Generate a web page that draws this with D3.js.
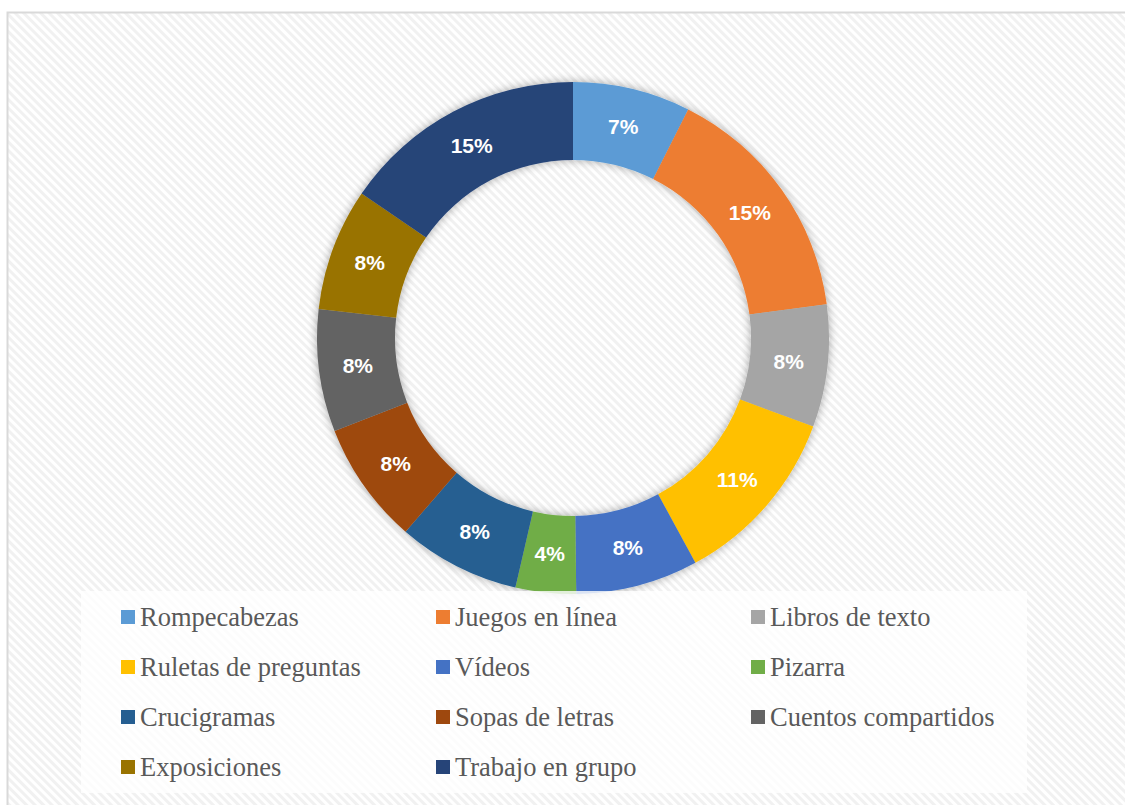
<!DOCTYPE html>
<html>
<head>
<meta charset="utf-8">
<script src="https://cdn.jsdelivr.net/npm/d3@7"></script>
<style>
    body { margin: 0; background: #fff; }
    svg { display: block; }
</style>
</head>
<body>
<div id="chart"></div>
<script>
const categories = ['Rompecabezas', 'Juegos en línea', 'Libros de texto', 'Ruletas de preguntas',
    'Vídeos', 'Pizarra', 'Crucigramas', 'Sopas de letras', 'Cuentos compartidos',
    'Exposiciones', 'Trabajo en grupo'];
const values = [7.4, 15.4, 7.7, 11.4, 7.7, 3.8, 7.7, 7.7, 7.7, 7.7, 15.4];
const colors = ['#5b9bd5', '#ed7d31', '#a5a5a5', '#ffc000', '#4472c4', '#70ad47',
    '#255e91', '#9e480e', '#636363', '#997300', '#264478'];

const width = 1125;
const height = 805;
const cx = 573, cy = 338;
const outerR = 256, innerR = 178;

const svg = d3.select('#chart').append('svg')
    .attr('width', width)
    .attr('height', height);

const defs = svg.append('defs');

// diagonal hatch used by the chart area
const hatch = defs.append('pattern')
    .attr('id', 'hatch')
    .attr('patternUnits', 'userSpaceOnUse')
    .attr('width', 6)
    .attr('height', 6)
    .attr('patternTransform', 'rotate(-45)');
hatch.append('rect').attr('width', 6).attr('height', 6).attr('fill', '#ffffff');
hatch.append('rect').attr('width', 3).attr('height', 6).attr('fill', '#f1f1f1');

const shadow = defs.append('filter')
    .attr('id', 'shadow')
    .attr('x', '-20%').attr('y', '-20%')
    .attr('width', '140%').attr('height', '140%');
shadow.append('feGaussianBlur')
    .attr('in', 'SourceAlpha')
    .attr('stdDeviation', 5);
shadow.append('feOffset').attr('dx', 0).attr('dy', 0).attr('result', 'blur');
shadow.append('feComponentTransfer')
    .append('feFuncA').attr('type', 'linear').attr('slope', 0.35);
const merge = shadow.append('feMerge');
merge.append('feMergeNode');
merge.append('feMergeNode').attr('in', 'SourceGraphic');

// chart area with border
svg.append('rect')
    .attr('x', 7.5)
    .attr('y', 12.5)
    .attr('width', width)
    .attr('height', height)
    .attr('fill', 'url(#hatch)')
    .attr('stroke', '#d9d9d9')
    .attr('stroke-width', 2);

const pie = d3.pie()
    .sort(null)
    .value((d) => d.value);

const arc = d3.arc()
    .innerRadius(innerR)
    .outerRadius(outerR);

const labelArc = d3.arc()
    .innerRadius((innerR + outerR) / 2)
    .outerRadius((innerR + outerR) / 2);

const data = categories.map((name, i) => {
    return {name: name, value: values[i], color: colors[i]};
});

const g = svg.append('g')
    .attr('transform', 'translate(' + cx + ',' + cy + ')');

const slices = g.append('g').attr('filter', 'url(#shadow)');

slices.selectAll('path')
    .data(pie(data))
    .enter()
.append('path')
    .attr('d', arc)
    .attr('fill', (d) => d.data.color);

g.selectAll('.label')
    .data(pie(data))
    .enter()
.append('text')
    .attr('class', 'label')
    .attr('transform', (d) => 'translate(' + labelArc.centroid(d) + ')')
    .attr('dy', '0.35em')
    .attr('text-anchor', 'middle')
    .style('font', 'bold 21px "Liberation Sans", Arial, sans-serif')
    .style('fill', '#ffffff')
    .text((d) => Math.round(d.data.value) + '%');

// legend
const legendBox = {x: 81, y: 591, w: 946, h: 202};
svg.append('rect')
    .attr('x', legendBox.x)
    .attr('y', legendBox.y)
    .attr('width', legendBox.w)
    .attr('height', legendBox.h)
    .attr('fill', '#ffffff')
    .attr('fill-opacity', 0.8);

const colX = d3.scaleOrdinal().domain([0, 1, 2]).range([121, 436, 751]);
const rowY = d3.scaleLinear().domain([0, 1]).range([617, 667]);

const legend = svg.selectAll('.legend')
    .data(data)
    .enter()
.append('g')
    .attr('class', 'legend')
    .attr('transform', (d, i) => 'translate(' + colX(i % 3) + ',' + rowY(Math.floor(i / 3)) + ')');

legend.append('rect')
    .attr('x', 0)
    .attr('y', -7)
    .attr('width', 14)
    .attr('height', 14)
    .attr('fill', (d) => d.color);

legend.append('text')
    .attr('x', 19)
    .attr('dy', '0.35em')
    .style('font', '26.5px "Liberation Serif", "Times New Roman", serif')
    .style('fill', '#595959')
    .text((d) => d.name);
</script>
</body>
</html>
